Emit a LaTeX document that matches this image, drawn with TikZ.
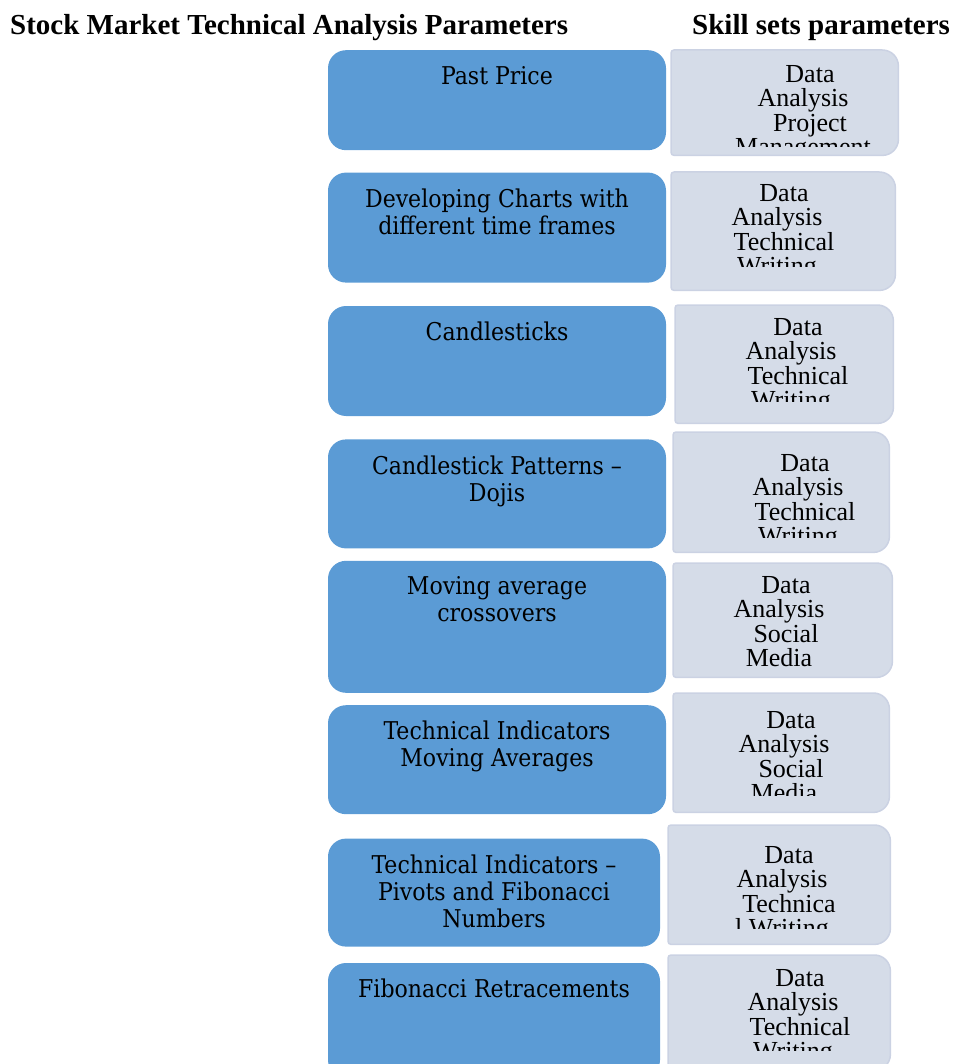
\documentclass[tikz,border=0pt]{standalone}
\usepackage{fontspec}
\setmainfont{Liberation Serif}
\newfontfamily\paramfont[Extension=.ttf]{DejaVuSerifCondensed}
\usetikzlibrary{positioning}
\definecolor{paramblue}{HTML}{5B9BD5}
\definecolor{skillgrey}{HTML}{D5DCE8}
\definecolor{skilledge}{HTML}{CBD2E3}
\tikzset{param/.style     = {rectangle, fill=paramblue, rounded corners=18pt, minimum width=338pt},
	paramtext/.style = {font=\paramfont\fontsize{24.5}{27}\selectfont, align=center, inner sep=0pt},
	skill/.style     = {rectangle, minimum width=225pt, inner sep=0pt, anchor=north west},
	skillfill/.style = {fill=skillgrey, draw=skilledge, line width=1.5pt},
	skilltext/.style = {font=\fontsize{26}{24.5}\selectfont, align=center, inner sep=0pt, anchor=north},
	heading/.style   = {font=\bfseries\fontsize{29}{30}\selectfont, inner sep=0pt, anchor=base west}
}
\newcommand{\skillshape}[1]{%
	\filldraw[skillfill] (#1.west) [rounded corners=3pt] -- (#1.north west) -- (#1.north)
	[rounded corners=16pt] -- (#1.north east) -- (#1.south east) -- (#1.south)
	[rounded corners=3pt] -- (#1.south west) -- cycle;}
\newcommand{\shiftln}{\hspace*{14pt}}

\begin{document}
\begin{tikzpicture}[x=1pt, y=-1pt]
	\useasboundingbox (0,0) rectangle (955,1064);
	\node[heading] (h1) at (10,35) {Stock Market Technical Analysis Parameters};
	\node[heading] (h2) at (692,35) {Skill sets parameters};
	%% left column: analysis parameters
	\node[param, minimum height=100pt, anchor=north] (p1) at (497,50) {};
	\node[param, minimum height=110pt, below=22pt of p1] (p2) {};
	\node[param, minimum height=110pt, below=23pt of p2] (p3) {};
	\node[param, minimum height=109pt, below=23pt of p3] (p4) {};
	\node[param, minimum height=132pt, below=12pt of p4] (p5) {};
	\node[param, minimum height=109pt, below=12pt of p5] (p6) {};
	\node[param, minimum height=108pt, minimum width=332pt, below=24pt of p6, xshift=-3pt] (p7) {};
	\node[param, minimum height=115pt, minimum width=332pt, below=16pt of p7] (p8) {};
	\node[paramtext, below=16pt of p1.north] (t1) {Past Price};
	\node[paramtext, below=16pt of p2.north] (t2) {Developing Charts with\\different time frames};
	\node[paramtext, below=16pt of p3.north] (t3) {Candlesticks};
	\node[paramtext, below=16pt of p4.north] (t4) {Candlestick Patterns –\\Dojis};
	\node[paramtext, below=16pt of p5.north] (t5) {Moving average\\crossovers};
	\node[paramtext, below=16pt of p6.north] (t6) {Technical Indicators\\Moving Averages};
	\node[paramtext, below=16pt of p7.north] (t7) {Technical Indicators –\\Pivots and Fibonacci\\Numbers};
	\node[paramtext, below=16pt of p8.north] (t8) {Fibonacci Retracements};
	%% right column: skill sets
	\node[skill, minimum height=105pt, minimum width=227pt] (s1) at (671,50) {};
	\node[skill, minimum height=118pt, minimum width=224pt] (s2) at (671,172) {};
	\node[skill, minimum height=118pt, minimum width=218pt] (s3) at (675,305) {};
	\node[skill, minimum height=120pt, minimum width=216pt] (s4) at (673,432) {};
	\node[skill, minimum height=114pt, minimum width=219pt] (s5) at (673,563) {};
	\node[skill, minimum height=119pt, minimum width=216pt] (s6) at (673,693) {};
	\node[skill, minimum height=119pt, minimum width=222pt] (s7) at (668,825) {};
	\node[skill, minimum height=115pt, minimum width=222pt] (s8) at (668,955) {};
	\skillshape{s1} \skillshape{s2} \skillshape{s3} \skillshape{s4}
	\skillshape{s5} \skillshape{s6} \skillshape{s7} \skillshape{s8}
	%% text is cut off at the bottom of each box
	\begin{scope}
		\clip (s1.north west) rectangle (s1.east |- 0,147);
		\node[skilltext] (k1) at (803,65) {\shiftln Data\\Analysis\\\shiftln Project\\Management};
	\end{scope}
	\begin{scope}
		\clip (s2.north west) rectangle (s2.east |- 0,267);
		\node[skilltext] (k2) at (777,184) {\shiftln Data\\Analysis\\\shiftln Technical\\Writing};
	\end{scope}
	\begin{scope}
		\clip (s3.north west) rectangle (s3.east |- 0,401);
		\node[skilltext] (k3) at (791,318) {\shiftln Data\\Analysis\\\shiftln Technical\\Writing};
	\end{scope}
	\begin{scope}
		\clip (s4.north west) rectangle (s4.east |- 0,537);
		\node[skilltext] (k4) at (798,454) {\shiftln Data\\Analysis\\\shiftln Technical\\Writing};
	\end{scope}
	\node[skilltext] (k5) at (779,576) {\shiftln Data\\Analysis\\\shiftln Social\\Media};
	\begin{scope}
		\clip (s6.north west) rectangle (s6.east |- 0,795);
		\node[skilltext] (k6) at (784,711) {\shiftln Data\\Analysis\\\shiftln Social\\Media};
	\end{scope}
	\begin{scope}
		\clip (s7.north west) rectangle (s7.east |- 0,928);
		\node[skilltext] (k7) at (782,846) {\shiftln Data\\Analysis\\\shiftln Technica\\l Writing};
	\end{scope}
	\begin{scope}
		\clip (s8.north west) rectangle (s8.east |- 0,1050);
		\node[skilltext] (k8) at (793,969) {\shiftln Data\\Analysis\\\shiftln Technical\\Writing};
	\end{scope}
\end{tikzpicture}
\end{document}
